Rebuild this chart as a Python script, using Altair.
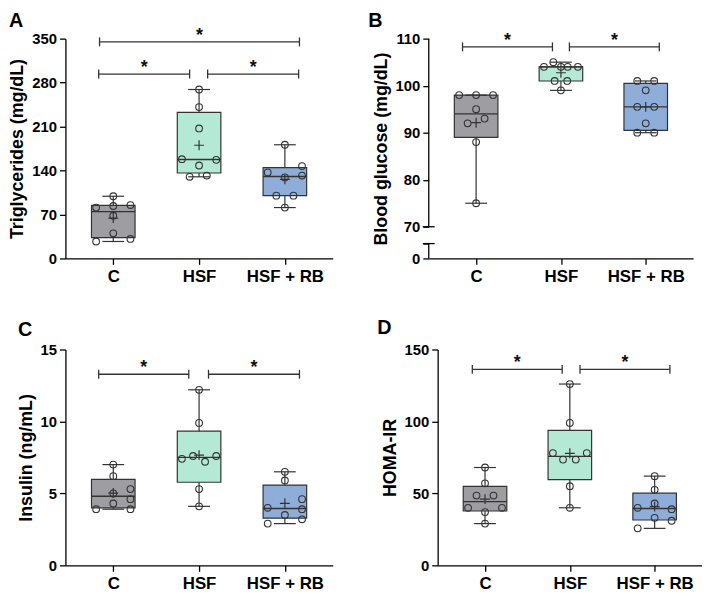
import altair as alt
import numpy as np
import pandas as pd

GROUPS = ["C", "HSF", "HSF + RB"]
FILLS = ["#9e9ea2", "#b4e9d5", "#8eaed9"]
INK = "#333333"
FONT = "Liberation Sans"

# ---- Panel A: Triglycerides (mg/dL)
tg_c = [99, 83.5, 81, 85, 68, 40, 27, 31]
tg_hsf = [269, 241, 207, 158, 157, 148, 130, 132]
tg_rb = [181, 147, 137, 132, 129, 100, 100, 81]
tg_c_col = [0, 0, -1, 1, 0, 0, -1, 1]
tg_hsf_col = [0, 0, 0, -1, 1, 0, -0.55, 0.45]
tg_rb_col = [0, 1, -1, 1, 0, -0.5, 0.5, 0]
tg_ticks = [0, 70, 140, 210, 280, 350]
tg_brackets = [(-0.17, 0.89, 293.6, "*"), (1.1, 2.16, 293.6, "*"), (-0.16, 2.17, 344.8, "*")]

# ---- Panel B: Blood glucose (mg/dL)
bg_c = [98, 98, 98, 95, 92, 93, 88, 75]
bg_hsf = [104, 105, 104, 104, 104, 101, 101, 99]
bg_rb = [101, 101, 99, 95.5, 95.5, 92, 90, 90]
bg_c_col = [-1, 0, 1, 0, -0.5, 0.5, 0, 0]
bg_hsf_col = [-1, -0.45, 0.4, 1, 0, -0.37, 0.37, 0]
bg_rb_col = [-0.5, 0.5, 0, -0.5, 0.5, 0, -0.5, 0.5]
bg_ticks = [0, 5, 70, 80, 90, 100, 110]
bg_segments = [(0, 5), (70, 110)]
bg_brackets = [(-0.16, 0.9, 108.25, "*"), (1.1, 2.16, 108.25, "*")]

# ---- Panel C: Insulin (ng/mL)
ins_c = [7.0, 6.2, 5.3, 5.0, 4.6, 4.3, 3.9, 3.9]
ins_hsf = [12.2, 9.9, 7.4, 7.6, 7.2, 7.6, 5.3, 4.1]
ins_rb = [6.5, 5.9, 4.6, 4.0, 3.9, 3.5, 2.9, 3.2]
ins_c_col = [0, 0, 1, 0, 1, 0, -1, 1]
ins_hsf_col = [0, 0, -1, -0.35, 0.35, 1, 0, 0]
ins_rb_col = [0, 0, 1, -1, 1, 0, -1, 1]
ins_ticks = [0, 5, 10, 15]
ins_brackets = [(-0.17, 0.88, 13.28, "*"), (1.11, 2.17, 13.28, "*")]

# ---- Panel D: HOMA-IR
homa_c = [68, 57, 48.5, 48.5, 40, 40, 37, 29]
homa_hsf = [126, 99, 78, 73.5, 73.5, 78, 55, 40]
homa_rb = [62, 52.5, 43, 40, 39, 33, 31, 25.7]
homa_c_col = [0, 0, -0.5, 0.5, -1, 1, 0, 0]
homa_hsf_col = [0, 0, -1, -0.4, 0.35, 1, 0, 0]
homa_rb_col = [0, 0, 0, -1, 1, 0, 1, -1]
homa_ticks = [0, 50, 100, 150]
homa_brackets = [(-0.15, 0.91, 136.2, "*"), (1.12, 2.18, 136.2, "*")]

HLINE = "M-1,0L1,0"
VLINE = "M0,-1L0,1"
PLUS = "M-1,0L1,0M0,-1L0,1"
JIT = 0.2


def panel(letter, letter_pos, title, series, cols, ticks, brackets, width, height,
          ys, segments=None, hidden_ticks=()):
    pts, stats, caps = [], [], []
    for g, (vals, cs) in enumerate(zip(series, cols)):
        arr = np.array(vals, float)
        q1, med, q3 = np.percentile(arr, [25, 50, 75], method="weibull")
        stats.append(dict(g=g, q1=q1, med=med, q3=q3, lo=arr.min(), hi=arr.max(),
                          mean=arr.mean(), fill=FILLS[g]))
        caps += [dict(g=g, v=arr.min()), dict(g=g, v=arr.max())]
        for v, c in zip(vals, cs):
            pts.append(dict(x=g + c * JIT, v=v))
    st = pd.DataFrame(stats)
    pt = pd.DataFrame(pts)
    cp = pd.DataFrame(caps)
    br = pd.DataFrame([dict(x1=a, x2=b, y=y, lab=l, xm=(a + b) / 2) for a, b, y, l in brackets])
    ends = pd.DataFrame([dict(x=r[k], y=r[2]) for r in brackets for k in (0, 1)])

    xs = alt.Scale(domain=[-0.5, 2.5], nice=False, zero=False)
    lab_expr = "[" + ",".join("'%s'" % g for g in GROUPS) + "][datum.value]"
    xa = alt.Axis(values=[0, 1, 2], labelExpr=lab_expr, title=None, grid=False)
    yexpr = "datum.label"
    if hidden_ticks:
        yexpr = " || ".join("datum.value == %s" % h for h in hidden_ticks) + " ? '' : datum.label"
    ya = alt.Axis(values=ticks, title=title, grid=False, labelExpr=yexpr,
                  domain=segments is None)

    def X(f):
        return alt.X(f, type="quantitative", scale=xs, axis=xa)

    def Y(f):
        return alt.Y(f, type="quantitative", scale=ys, axis=ya)

    base_st = alt.Chart(st)
    whisk = base_st.mark_rule(color=INK, strokeWidth=1.2).encode(x=X("g"), y=Y("lo"), y2="hi")
    box = base_st.mark_bar(size=44, stroke=INK, strokeWidth=1.2).encode(
        x=X("g"), y=Y("q1"), y2="q3", color=alt.Color("fill:N", scale=None))
    capm = alt.Chart(cp).mark_point(shape=HLINE, size=22 ** 2, color=INK, strokeWidth=1.2,
                                    filled=False, opacity=1).encode(x=X("g"), y=Y("v"))
    medm = base_st.mark_point(shape=HLINE, size=44 ** 2, color=INK, strokeWidth=1.4,
                              filled=False, opacity=1).encode(x=X("g"), y=Y("med"))
    meanm = base_st.mark_point(shape=PLUS, size=100, color=INK, strokeWidth=1.2,
                               filled=False, opacity=1).encode(x=X("g"), y=Y("mean"))
    dots = alt.Chart(pt).mark_point(shape="circle", size=46, color=INK, strokeWidth=1.1,
                                    filled=False, opacity=1).encode(x=X("x"), y=Y("v"))
    brl = alt.Chart(br).mark_rule(color=INK, strokeWidth=1.3).encode(x=X("x1"), x2="x2", y=Y("y"))
    bre = alt.Chart(ends).mark_point(shape=VLINE, size=81, color=INK, strokeWidth=1.3,
                                     filled=False, opacity=1).encode(x=X("x"), y=Y("y"))
    stars = alt.Chart(br).mark_text(font=FONT, fontSize=18, fontWeight="bold", color="#111",
                                    baseline="alphabetic", dy=-1).encode(
        x=X("xm"), y=Y("y"), text="lab:N")
    let = alt.Chart(pd.DataFrame({"t": [letter]})).mark_text(
        font=FONT, fontSize=20, fontWeight="bold", color="#000", align="left", baseline="top"
    ).encode(x=alt.value(letter_pos[0]), y=alt.value(letter_pos[1]), text="t:N")

    layers = [whisk, box, capm, medm, meanm, dots, brl, bre, stars, let]
    if segments is not None:
        seg = pd.DataFrame([dict(a=a, b=b) for a, b in segments])
        segm = alt.Chart(seg).mark_rule(color="#000", strokeWidth=1.3).encode(
            x=alt.value(0), y=Y("a"), y2="b")
        segcap = pd.DataFrame({"v": [s[1] for s in segments[:-1]] + [s[0] for s in segments[1:]]})
        capx = alt.Chart(segcap).mark_point(shape=HLINE, size=144, color="#000", strokeWidth=1.3,
                                            filled=False, opacity=1).encode(x=alt.value(0), y=Y("v"))
        layers += [segm, capx]
    return alt.layer(*layers).properties(width=width, height=height)


HT = 222
HB = 218
ys_a = alt.Scale(domain=[0, 350], nice=False, zero=False)
ys_b = alt.Scale(domain=[0, 5, 70, 110], range=[HT, HT - 15, HT - 32, 0], nice=False, zero=False)
ys_c = alt.Scale(domain=[0, 15], nice=False, zero=False)
ys_d = alt.Scale(domain=[0, 150], nice=False, zero=False)

pa = panel("A", (-57, -28), "Triglycerides (mg/dL)", [tg_c, tg_hsf, tg_rb],
           [tg_c_col, tg_hsf_col, tg_rb_col], tg_ticks, tg_brackets, 270, HT, ys_a)
pb = panel("B", (-61, -28), "Blood glucose (mg/dL)", [bg_c, bg_hsf, bg_rb],
           [bg_c_col, bg_hsf_col, bg_rb_col], bg_ticks, bg_brackets, 267, HT, ys_b,
           segments=bg_segments, hidden_ticks=(5,))
pc = panel("C", (-48, -30), "Insulin (ng/mL)", [ins_c, ins_hsf, ins_rb],
           [ins_c_col, ins_hsf_col, ins_rb_col], ins_ticks, ins_brackets, 270, HB, ys_c)
pd_ = panel("D", (-61, -32), "HOMA-IR", [homa_c, homa_hsf, homa_rb],
            [homa_c_col, homa_hsf_col, homa_rb_col], homa_ticks, homa_brackets, 267, HB, ys_d)

top = alt.hconcat(pa, pb, spacing=36)
bottom = alt.hconcat(pc, pd_, spacing=45)
chart = alt.vconcat(top, bottom, spacing=34).properties(
    padding={"left": 0, "top": 0, "right": 0, "bottom": 0}
).configure_view(stroke=None).configure_axis(
    domainColor="#000", domainWidth=1.3, tickColor="#000", tickWidth=1.3, tickSize=6,
    labelFont=FONT, labelFontWeight="bold", labelFontSize=15, labelColor="#000", labelPadding=3,
    titleFont=FONT, titleFontWeight="bold", titleFontSize=18, titleColor="#000", titlePadding=5,
).configure_axisX(labelFontSize=17, labelPadding=4)

chart.save("out.html", embed_options={"renderer": "svg", "actions": False})
